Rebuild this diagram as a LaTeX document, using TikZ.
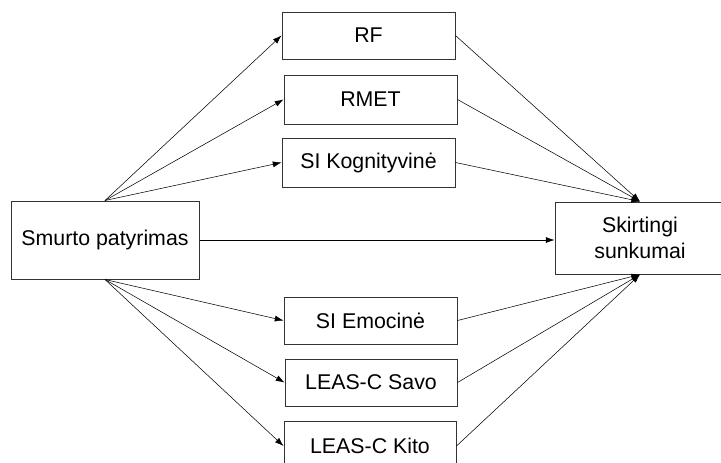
\documentclass[tikz,border=0pt]{standalone}
\usepackage{fontspec}
\setmainfont{Liberation Sans}
\usepackage{tikz}
\usetikzlibrary{arrows.meta}

\tikzset{
  box/.style={draw=black!80, line width=0.75, inner sep=0pt, align=center, font=\fontsize{16}{19}\selectfont},
  link/.style={-{Latex[length=6.5pt,width=4.5pt]}, line width=0.4}
}

\begin{document}
\begin{tikzpicture}[x=0.75pt,y=0.75pt,yscale=-1,xscale=1]
\useasboundingbox (0,0) rectangle (721,462);
\clip (0,0) rectangle (721,462);

%Left box
\node [box, minimum width=188*0.75pt, minimum height=78*0.75pt] (smurto) at (105,240) {Smurto patyrimas};
%Upper boxes
\node [box, minimum width=173*0.75pt, minimum height=47*0.75pt] (rf) at (368.5,35.5) {RF};
\node [box, minimum width=173*0.75pt, minimum height=49*0.75pt] (rmet) at (370.5,99.5) {RMET};
\node [box, minimum width=173*0.75pt, minimum height=49*0.75pt] (kog) at (368.5,162.5) {SI Kognityvinė};
%Lower boxes
\node [box, minimum width=173*0.75pt, minimum height=47*0.75pt] (emo) at (370.5,320.5) {SI Emocinė};
\node [box, minimum width=172*0.75pt, minimum height=47*0.75pt] (savo) at (371,382.5) {LEAS-C Savo};
\node [box, minimum width=172*0.75pt, minimum height=50*0.75pt] (kito) at (370,446) {LEAS-C Kito};
%Right box
\node [box, minimum width=170*0.75pt, minimum height=72*0.75pt] (skirt) at (640,238) {Skirtingi\\sunkumai};

%Arrows out of the left box
\draw [link] (smurto.north) -- (rf.west);
\draw [link] (smurto.north) -- (rmet.west);
\draw [link] (smurto.north) -- (kog.west);
\draw [link] (smurto.south) -- (emo.west);
\draw [link] (smurto.south) -- (savo.west);
\draw [link] (smurto.south) -- (kito.west);
\draw [link] (smurto.east) -- (smurto.east -| skirt.west);
%Arrows into the right box
\draw [link] (rf.east) -- (skirt.north);
\draw [link] (rmet.east) -- (skirt.north);
\draw [link] (kog.east) -- (skirt.north);
\draw [link] (emo.east) -- (skirt.south);
\draw [link] (savo.east) -- (skirt.south);
\draw [link] (kito.east) -- (skirt.south);
\end{tikzpicture}
\end{document}
